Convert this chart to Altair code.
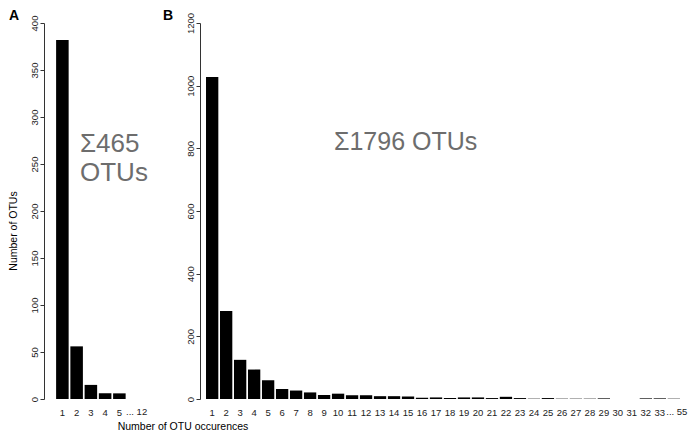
import altair as alt
import pandas as pd

FONT = "Liberation Sans"
GREY = "#6d6d6d"
AXC = "#333333"

# ---- data ----
a_cats = ["1", "2", "3", "4", "5", "12"]
a_vals = [382, 56, 15, 6, 6, 0]
a_ticks = [0, 50, 100, 150, 200, 250, 300, 350, 400]

b_cats = ["1", "2", "3", "4", "5", "6", "7", "8", "9", "10", "11", "12", "13", "14",
          "15", "16", "17", "18", "19", "20", "21", "22", "23", "24", "25", "26", "27",
          "28", "29", "30", "31", "32", "33", "55"]
b_vals = [1028, 281, 125, 94, 60, 32, 27, 21, 13, 17, 12, 12, 9, 9,
          8, 4, 5, 3, 5, 5, 3, 7, 3, 1, 3, 1, 1,
          1, 2, 0, 0, 2, 2, 1]
b_ticks = [0, 200, 400, 600, 800, 1000, 1200]

a_last = ["12"]
a_last_label = ["... 12"]
b_last = ["55"]
b_last_label = ["... 55"]

A_W, B_W, H = 108, 486, 376


def x_enc(cats, po):
    return alt.X(
        "occ:N", sort=cats,
        scale=alt.Scale(paddingInner=0.12, paddingOuter=po),
        axis=alt.Axis(title=None, labelAngle=0, domain=False, ticks=False, tickSize=0,
                      labelPadding=8, labelFontSize=9.5, labelFont=FONT, labelColor="#222222",
                      labelBaseline="top", labelOverlap=False,
                      labelExpr="datum.label == '%s' ? '' : datum.label" % cats[-1]),
    )


def y_enc(dom, ticks):
    return alt.Y(
        "n:Q", scale=alt.Scale(domain=dom, nice=False, zero=True),
        axis=alt.Axis(title=None, values=ticks, format="d", grid=False, tickSize=4,
                      tickColor=AXC, domainColor=AXC, labelAngle=270, labelAlign="center",
                      labelBaseline="alphabetic", labelPadding=3, labelFontSize=9.5,
                      labelFont=FONT, labelColor="#222222"),
    )


def txt(text, x, y, size, color="black", align="left", baseline="alphabetic", weight="normal", angle=0):
    props = dict(font=FONT, fontSize=size, color=color, align=align, baseline=baseline,
                 fontWeight=weight)
    if angle:
        props["angle"] = angle
    return alt.Chart(pd.DataFrame({"t": [text]})).mark_text(**props).encode(
        x=alt.value(x), y=alt.value(y), text="t:N")


# ---- panel A ----
dfA = pd.DataFrame({"occ": a_cats, "n": a_vals})
barsA = alt.Chart(dfA).mark_bar(color="black").encode(
    x=x_enc(a_cats, 0.85), y=y_enc([0, 400], a_ticks))
lastA = alt.Chart(pd.DataFrame({"occ": a_last, "lab": a_last_label})).mark_text(
    font=FONT, fontSize=9.5, baseline="top", align="center", dx=3, color="#222222"
).encode(x=alt.X("occ:N", sort=a_cats), y=alt.value(H + 8), text="lab:N")

panelA = alt.layer(
    barsA, lastA,
    txt("A", -35, -14, 14, weight="bold", baseline="top"),
    txt("Σ465", 36, 129, 26, color=GREY),
    txt("OTUs", 36, 158, 26, color=GREY),
    txt("Number of OTUs", -27, 208, 10.5, align="center", angle=270),
    txt("Number of OTU occurences", 139, H + 28, 10.5, align="center", baseline="middle"),
).properties(width=A_W, height=H)

# ---- panel B ----
dfB = pd.DataFrame({"occ": b_cats, "n": b_vals})
barsB = alt.Chart(dfB).mark_bar(color="black").encode(
    x=x_enc(b_cats, 0.43), y=y_enc([0, 1200], b_ticks))
lastB = alt.Chart(pd.DataFrame({"occ": b_last, "lab": b_last_label})).mark_text(
    font=FONT, fontSize=9.5, baseline="top", align="center", dx=3, color="#222222"
).encode(x=alt.X("occ:N", sort=b_cats), y=alt.value(H + 8), text="lab:N")

panelB = alt.layer(
    barsB, lastB,
    txt("B", -37, -14, 14, weight="bold", baseline="top"),
    txt("Σ1796 OTUs", 134, 127, 25, color=GREY),
).properties(width=B_W, height=H)

chart = alt.hconcat(panelA, panelB, spacing=48, bounds="flush", padding=0).configure_view(
    stroke="transparent")

chart.save("out.html", embed_options={"renderer": "svg", "actions": False})
